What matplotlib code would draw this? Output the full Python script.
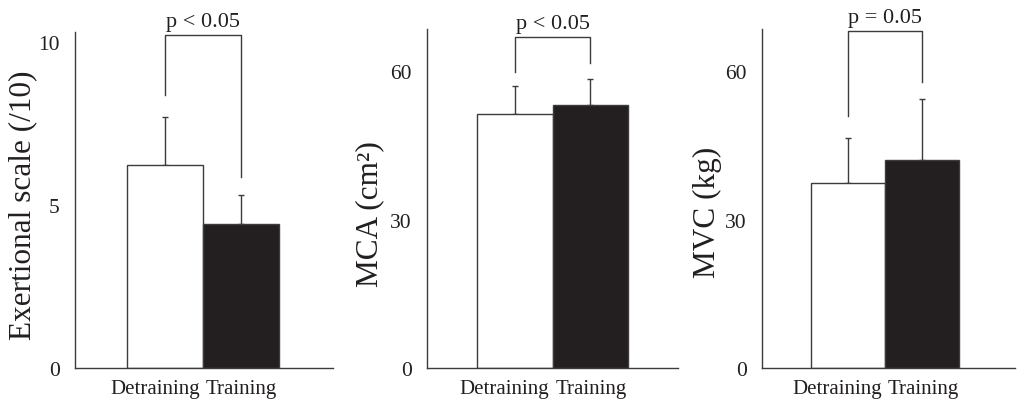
import matplotlib
matplotlib.use("Agg")
import matplotlib.pyplot as plt

plt.rcParams["font.family"] = ["Liberation Serif", "DejaVu Serif"]

# Data
categories = ["Detraining", "Training"]
exertional_mean = [6.23, 4.42]
exertional_sd = [1.47, 0.89]
mca_mean = [51.4, 53.2]
mca_sd = [5.5, 5.1]
mvc_mean = [37.3, 42.0]
mvc_sd = [9.1, 12.3]
p_labels = ["p < 0.05", "p < 0.05", "p = 0.05"]
y_labels = ["Exertional scale (/10)", "MCA (cm\u00b2)", "MVC (kg)"]
y_ticks = [[0, 5, 10], [0, 30, 60], [0, 30, 60]]

INK = "#231f20"
LINE = "#3c3c3c"
W, H = 1019, 402

# Layout (pixels): axes left, right, top, bottom; y-limit top; bracket legs
panels = [
    dict(mean=exertional_mean, sd=exertional_sd, box=(75, 333, 33, 369), ytop=10.3,
         bracket=(8.37, 5.86, 10.21), lab=(23, 205), xlim=(-1.18, 2.21)),
    dict(mean=mca_mean, sd=mca_sd, box=(427, 678, 30, 369), ytop=68.5,
         bracket=(59.8, 61.6, 66.9), lab=(370, 214), xlim=(-1.17, 2.17)),
    dict(mean=mvc_mean, sd=mvc_sd, box=(762, 1015, 30, 369), ytop=68.5,
         bracket=(50.9, 57.8, 68.1), lab=(707, 212), xlim=(-1.16, 2.26)),
]

fig = plt.figure(figsize=(W / 100, H / 100), dpi=100)

for i, p in enumerate(panels):
    l, r, t, b = p["box"]
    ax = fig.add_axes([l / W, (H - b) / H, (r - l) / W, (b - t) / H])
    x = [0, 1]
    ax.bar(x, p["mean"], width=1.0, color=["white", INK], edgecolor=LINE,
           linewidth=1.0, zorder=2)
    ax.errorbar(x, p["mean"], yerr=[[0, 0], p["sd"]], fmt="none", ecolor=LINE,
                elinewidth=1.0, capsize=2, capthick=1.0, zorder=1)
    ax.set_xlim(*p["xlim"])
    ax.set_ylim(0, p["ytop"])
    for s in ["top", "right"]:
        ax.spines[s].set_visible(False)
    for s in ["left", "bottom"]:
        ax.spines[s].set_color(LINE)
        ax.spines[s].set_linewidth(1.0)
    ax.set_yticks(y_ticks[i])
    ax.tick_params(axis="y", length=0, pad=11, labelsize=15.5, labelcolor=INK)
    ax.set_xticks([0.46, 0.54])
    ax.set_xticklabels(categories)
    ax.tick_params(axis="x", length=0, pad=8, labelsize=15, labelcolor=INK)
    lbls = ax.get_xticklabels()
    lbls[0].set_ha("right")
    lbls[1].set_ha("left")

    # significance bracket
    yl, yr, ytop = p["bracket"]
    ax.plot([0, 0, 1, 1], [yl, ytop, ytop, yr], color=LINE, lw=1.0,
            clip_on=False, zorder=3)
    ax.annotate(p_labels[i], xy=(0.5, ytop), xytext=(0, 3),
                textcoords="offset points", ha="center", va="bottom",
                fontsize=16, color=INK, annotation_clip=False)

    fig.text(p["lab"][0] / W, (H - p["lab"][1]) / H, y_labels[i], rotation=90,
             ha="center", va="center", fontsize=22.5, color=INK)

fig.savefig("out.png", dpi=100)
